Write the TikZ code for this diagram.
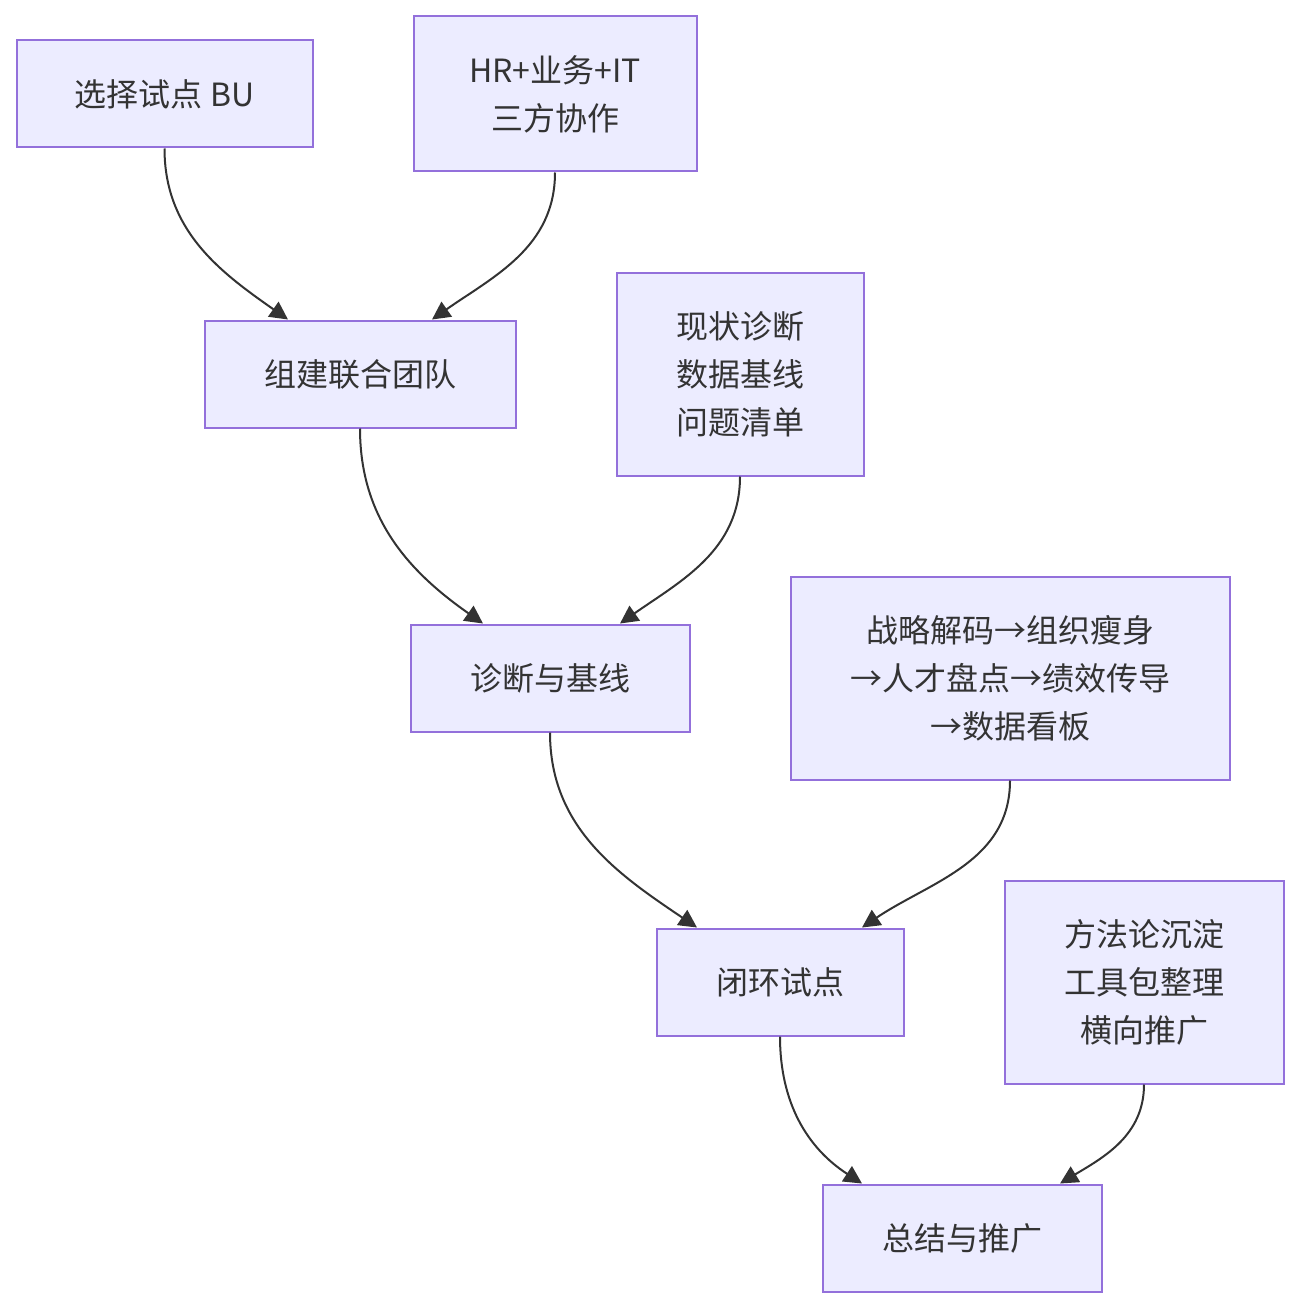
\documentclass[tikz,border=0pt]{standalone}
\usepackage{fontspec}
\setmainfont{Noto Sans CJK SC}
\usetikzlibrary{arrows.meta,calc}
\definecolor{boxfill}{HTML}{ECECFF}
\definecolor{boxline}{HTML}{9370DB}
\definecolor{ink}{HTML}{333333}
\begin{document}
\begin{tikzpicture}[x=1pt,y=1pt,
  every node/.style={font=\fontsize{32}{48}\selectfont, text=ink},
  box/.style={draw=boxline, fill=boxfill, line width=2pt, align=center, inner sep=0pt},
  link/.style={draw=ink, line width=2pt, -{Triangle[length=18pt,width=18pt]}}]
  \useasboundingbox (0,0) rectangle (1299,-1308);
  % Steps
  \node[box, minimum width=296pt, minimum height=107pt] (pilot) at (164.5,-94) {选择试点 BU};
  \node[box, minimum width=283pt, minimum height=155pt] (trio) at (555,-94) {HR+业务+IT\\三方协作};
  \node[box, minimum width=311pt, minimum height=107pt] (team) at (360,-374) {组建联合团队};
  \node[box, minimum width=247pt, minimum height=203pt] (check) at (740,-374) {现状诊断\\数据基线\\问题清单};
  \node[box, minimum width=279pt, minimum height=107pt] (base) at (550,-678) {诊断与基线};
  \node[box, minimum width=439pt, minimum height=203pt] (chain) at (1010,-678) {战略解码→组织瘦身\\→人才盘点→绩效传导\\→数据看板};
  \node[box, minimum width=247pt, minimum height=107pt] (loop) at (780,-982) {闭环试点};
  \node[box, minimum width=279pt, minimum height=203pt] (method) at (1144,-982) {方法论沉淀\\工具包整理\\横向推广};
  \node[box, minimum width=279pt, minimum height=107pt] (sum) at (962,-1238) {总结与推广};
  % Links
  \draw[link] (pilot.south) to[out=-90,in=145] ($(team.north)+(-72,0)$);
  \draw[link] (trio.south) to[out=-90,in=35] ($(team.north)+(72,0)$);
  \draw[link] (team.south) to[out=-90,in=145] ($(base.north)+(-67,0)$);
  \draw[link] (check.south) to[out=-90,in=35] ($(base.north)+(70,0)$);
  \draw[link] (base.south) to[out=-90,in=146] ($(loop.north)+(-83,0)$);
  \draw[link] (chain.south) to[out=-90,in=34] ($(loop.north)+(82,0)$);
  \draw[link] (loop.south) to[out=-90,in=147] ($(sum.north)+(-100,0)$);
  \draw[link] (method.south) to[out=-90,in=31] ($(sum.north)+(98,0)$);
\end{tikzpicture}
\end{document}
